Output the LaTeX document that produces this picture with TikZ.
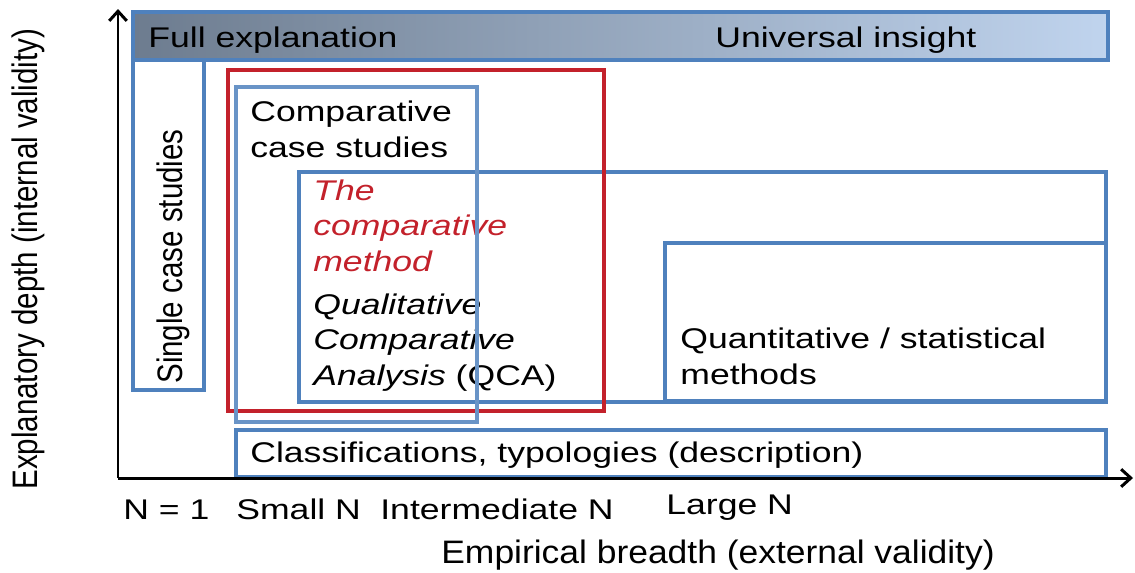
\documentclass[tikz,border=0pt]{standalone}
\usepackage{fontspec}
\setmainfont{Liberation Sans}
\usepackage{graphicx}
\usetikzlibrary{arrows.meta}
\definecolor{BoxBlue}{HTML}{4F81BD}
\definecolor{BoxRed}{HTML}{C3212B}
\definecolor{BarDark}{HTML}{6D7C8F}
\definecolor{BarLight}{HTML}{C0D4EE}
\newcommand{\widetxt}[1]{\scalebox{1.25}[1]{#1}}
\newcommand{\talltxt}[1]{\scalebox{1}[1.2]{#1}}

\begin{document}
\begin{tikzpicture}[x=0.02cm, y=-0.02cm, >={Straight Barb[length=5.5pt, width=10pt]},
  lbl/.style={anchor=base west, inner sep=0pt, align=left, font=\fontsize{16.2}{20.1}\selectfont},
  uplbl/.style={lbl, rotate=90, font=\fontsize{16.8}{20}\selectfont},
  bluebox/.style={draw=BoxBlue, line width=2pt},
  redbox/.style={draw=BoxRed, line width=2.6pt}]
  \useasboundingbox (0,0) rectangle (1135,572);
  \draw[bluebox, left color=BarDark, right color=BarLight] (133,12) rectangle (1108,60);
  \node[lbl] (full) at (148,47) {\widetxt{Full explanation}};
  \node[lbl] (universal) at (715,47) {\widetxt{Universal insight}};

  \node[uplbl] (single) at (182,384) {\talltxt{Single case studies}};
  \node[lbl] (ccs) at (250,157) {\widetxt{Comparative}\\\widetxt{case studies}};
  \node[lbl, text=BoxRed, font=\fontsize{16.2}{20.1}\selectfont\itshape] (method) at (313,271)
    {\widetxt{The}\\\widetxt{comparative}\\\widetxt{method}};
  \node[lbl] (qca) at (313,385)
    {\widetxt{\itshape Qualitative}\\\widetxt{\itshape Comparative}\\\widetxt{\itshape Analysis\/ \upshape(QCA)}};
  \node[lbl] (quant) at (680,384) {\widetxt{Quantitative / statistical}\\\widetxt{methods}};
  \node[lbl] (classif) at (250,462) {\widetxt{Classifications, typologies (description)}};

  \node[lbl] (n1) at (123,519) {\widetxt{N = 1}};
  \node[lbl] (smalln) at (236,519) {\widetxt{Small N}};
  \node[lbl] (intn) at (380,519) {\widetxt{Intermediate N}};
  \node[lbl] (largen) at (666,514) {\widetxt{Large N}};
  \node[lbl, font=\fontsize{18.5}{20}\selectfont] (xlabel) at (441,563)
    {\scalebox{1.09}[1]{Empirical breadth (external validity)}};
  \node[uplbl] (ylabel) at (37,490) {\talltxt{Explanatory depth (internal validity)}};

  \draw[bluebox] (133,60) rectangle (204,390);
  \draw[bluebox] (299,172) rectangle (1106,402);
  \draw[bluebox] (665,243) rectangle (1106,401);
  \draw[bluebox] (236,430) rectangle (1106,477);
  \draw[redbox] (228,70) rectangle (604,411);
  \draw[bluebox, draw=BoxBlue!85!white, line width=2.6pt] (236,87) rectangle (477,422);

  \coordinate (origin) at (118,478);
  \coordinate (ytop) at (118,9);
  \coordinate (xend) at (1133,478);
  \draw[line width=1.7pt, ->] (origin) -- (ytop);
  \draw[line width=1.7pt, ->] (origin) -- (xend);
\end{tikzpicture}
\end{document}
